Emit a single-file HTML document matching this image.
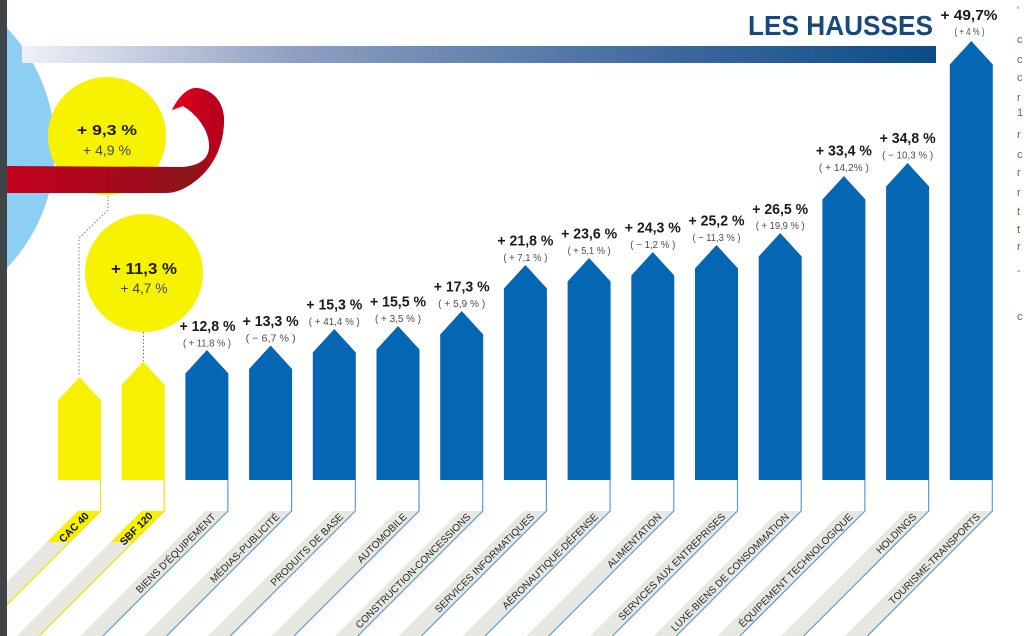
<!DOCTYPE html>
<html>
<head>
<meta charset="utf-8">
<style>
html,body{margin:0;padding:0;background:#fff;}
svg{display:block;}
text{font-family:"Liberation Sans",sans-serif;}
.b{font-weight:bold;fill:#1a1a1a;font-size:14.5px;text-anchor:middle;}
.s{fill:#4d4d4d;font-size:10px;text-anchor:middle;}
.lb{fill:#262626;font-size:10px;text-anchor:end;}
.lk{fill:#111;font-size:10.5px;font-weight:bold;text-anchor:end;}
.band{fill:#e9e7e2;}
.ln{fill:none;stroke:#5b9bd5;stroke-width:1.2;}
.lny{fill:none;stroke:#efe300;stroke-width:1.2;}
.bar{fill:#0567b3;}
.ybar{fill:#f7f000;}
.rc{fill:#8a5a2e;font-size:11px;}
</style>
</head>
<body>
<svg width="1024" height="636" viewBox="0 0 1024 636" xmlns="http://www.w3.org/2000/svg">
<defs>
<linearGradient id="tg" x1="0" y1="0" x2="1" y2="0">
<stop offset="0" stop-color="#f0f1f7"/>
<stop offset="0.3" stop-color="#8e9fc1"/>
<stop offset="0.7" stop-color="#3e6a9f"/>
<stop offset="1" stop-color="#0c4c86"/>
</linearGradient>
<linearGradient id="rg" x1="0" y1="0" x2="1" y2="0">
<stop offset="0" stop-color="#c4001f"/>
<stop offset="0.6" stop-color="#a00a1c"/>
<stop offset="0.85" stop-color="#8c1519"/>
<stop offset="1" stop-color="#c8001e"/>
</linearGradient>
<linearGradient id="lg" x1="0" y1="0" x2="1" y2="0">
<stop offset="0" stop-color="#e4001d"/>
<stop offset="1" stop-color="#b0001c"/>
</linearGradient>
</defs>

<circle cx="-119" cy="148" r="174" fill="#8dcff2"/>

<rect x="22" y="46" width="914" height="17" fill="url(#tg)"/>
<text x="748" y="35" font-size="27.5" font-weight="bold" fill="#17497d" textLength="185" lengthAdjust="spacingAndGlyphs">LES HAUSSES</text>

<circle cx="107" cy="136" r="59" fill="#f7f200"/>
<circle cx="144" cy="273" r="59" fill="#f7f200"/>

<path d="M7,166 L182,167 C198,166 208,160 209,148 C210,132 198,115 183,106 L172,110 C178,98 186,89 195,88 C210,88 224,100 224,120 C224,150 210,172 190,185 C182,190 175,193 165,193 L7,193 Z" fill="url(#rg)"/>
<path d="M183,106 L172,110 C178,98 186,89 195,88 C210,88 224,100 224,120 C224,135 220,145 214,155 C212,135 200,116 183,106 Z" fill="url(#lg)"/>

<text x="107" y="135" font-size="15" font-weight="bold" fill="#1a1a1a" text-anchor="middle" textLength="60" lengthAdjust="spacingAndGlyphs">+ 9,3 %</text>
<text x="107" y="155" font-size="13.5" fill="#444" text-anchor="middle" textLength="48" lengthAdjust="spacingAndGlyphs">+ 4,9 %</text>
<text x="144" y="274" font-size="16" font-weight="bold" fill="#1a1a1a" text-anchor="middle" textLength="66" lengthAdjust="spacingAndGlyphs">+ 11,3 %</text>
<text x="144" y="293" font-size="13.5" fill="#444" text-anchor="middle" textLength="47" lengthAdjust="spacingAndGlyphs">+ 4,7 %</text>

<polyline points="108,196 108,210 79,238 79,376" fill="none" stroke="#777" stroke-width="1" stroke-dasharray="1.5,2"/>
<line x1="143.5" y1="332" x2="143.5" y2="361" stroke="#777" stroke-width="1" stroke-dasharray="1.5,2"/>

<g transform="translate(101,0)"><polygon class="band" points="-23,511 0,511 -125,636 -148,636"/><polygon fill="#f7f000" points="-23,511 0,511 -31,542 -54,542"/><polyline class="lny" points="-0.5,480 -0.5,511 -125.5,636"/><g transform="translate(0,511) rotate(-45)"><text class="lk" x="-12" y="-4">CAC 40</text></g></g>
<g transform="translate(164.7,0)"><polygon class="band" points="-23,511 0,511 -125,636 -148,636"/><polygon fill="#f7f000" points="-23,511 0,511 -31,542 -54,542"/><polyline class="lny" points="-0.5,480 -0.5,511 -125.5,636"/><g transform="translate(0,511) rotate(-45)"><text class="lk" x="-12" y="-4">SBF 120</text></g></g>
<g transform="translate(228.4,0)"><polygon class="band" points="-23,511 0,511 -125,636 -148,636"/><polyline class="ln" points="-0.5,480 -0.5,511 -125.5,636"/><g transform="translate(0,511) rotate(-45)"><text class="lb" x="-13" y="-4">BIENS D'ÉQUIPEMENT</text></g></g>
<g transform="translate(292.1,0)"><polygon class="band" points="-23,511 0,511 -125,636 -148,636"/><polyline class="ln" points="-0.5,480 -0.5,511 -125.5,636"/><g transform="translate(0,511) rotate(-45)"><text class="lb" x="-13" y="-4">MÉDIAS-PUBLICITÉ</text></g></g>
<g transform="translate(355.8,0)"><polygon class="band" points="-23,511 0,511 -125,636 -148,636"/><polyline class="ln" points="-0.5,480 -0.5,511 -125.5,636"/><g transform="translate(0,511) rotate(-45)"><text class="lb" x="-13" y="-4">PRODUITS DE BASE</text></g></g>
<g transform="translate(419.5,0)"><polygon class="band" points="-23,511 0,511 -125,636 -148,636"/><polyline class="ln" points="-0.5,480 -0.5,511 -125.5,636"/><g transform="translate(0,511) rotate(-45)"><text class="lb" x="-13" y="-4">AUTOMOBILE</text></g></g>
<g transform="translate(483.2,0)"><polygon class="band" points="-23,511 0,511 -125,636 -148,636"/><polyline class="ln" points="-0.5,480 -0.5,511 -125.5,636"/><g transform="translate(0,511) rotate(-45)"><text class="lb" x="-13" y="-4">CONSTRUCTION-CONCESSIONS</text></g></g>
<g transform="translate(546.9,0)"><polygon class="band" points="-23,511 0,511 -125,636 -148,636"/><polyline class="ln" points="-0.5,480 -0.5,511 -125.5,636"/><g transform="translate(0,511) rotate(-45)"><text class="lb" x="-13" y="-4">SERVICES INFORMATIQUES</text></g></g>
<g transform="translate(610.6,0)"><polygon class="band" points="-23,511 0,511 -125,636 -148,636"/><polyline class="ln" points="-0.5,480 -0.5,511 -125.5,636"/><g transform="translate(0,511) rotate(-45)"><text class="lb" x="-13" y="-4">AÉRONAUTIQUE-DÉFENSE</text></g></g>
<g transform="translate(674.3,0)"><polygon class="band" points="-23,511 0,511 -125,636 -148,636"/><polyline class="ln" points="-0.5,480 -0.5,511 -125.5,636"/><g transform="translate(0,511) rotate(-45)"><text class="lb" x="-13" y="-4">ALIMENTATION</text></g></g>
<g transform="translate(738,0)"><polygon class="band" points="-23,511 0,511 -125,636 -148,636"/><polyline class="ln" points="-0.5,480 -0.5,511 -125.5,636"/><g transform="translate(0,511) rotate(-45)"><text class="lb" x="-13" y="-4">SERVICES AUX ENTREPRISES</text></g></g>
<g transform="translate(801.7,0)"><polygon class="band" points="-23,511 0,511 -125,636 -148,636"/><polyline class="ln" points="-0.5,480 -0.5,511 -125.5,636"/><g transform="translate(0,511) rotate(-45)"><text class="lb" x="-13" y="-4">LUXE-BIENS DE CONSOMMATION</text></g></g>
<g transform="translate(865.4,0)"><polygon class="band" points="-23,511 0,511 -125,636 -148,636"/><polyline class="ln" points="-0.5,480 -0.5,511 -125.5,636"/><g transform="translate(0,511) rotate(-45)"><text class="lb" x="-13" y="-4">ÉQUIPEMENT TECHNOLOGIQUE</text></g></g>
<g transform="translate(929.1,0)"><polygon class="band" points="-23,511 0,511 -125,636 -148,636"/><polyline class="ln" points="-0.5,480 -0.5,511 -125.5,636"/><g transform="translate(0,511) rotate(-45)"><text class="lb" x="-13" y="-4">HOLDINGS</text></g></g>
<g transform="translate(992.8,0)"><polygon class="band" points="-23,511 0,511 -125,636 -148,636"/><polyline class="ln" points="-0.5,480 -0.5,511 -125.5,636"/><g transform="translate(0,511) rotate(-45)"><text class="lb" x="-13" y="-4">TOURISME-TRANSPORTS</text></g></g>

<polygon class="ybar" points="58,480 58,400.5 79.5,377 101,400.5 101,480"/>
<polygon class="ybar" points="121.7,480 121.7,385 143.2,361.5 164.7,385 164.7,480"/>
<polygon class="bar" points="185.4,480 185.4,373.5 206.9,350 228.4,373.5 228.4,480"/>
<polygon class="bar" points="249.1,480 249.1,369 270.6,345.5 292.1,369 292.1,480"/>
<polygon class="bar" points="312.8,480 312.8,352.5 334.3,329 355.8,352.5 355.8,480"/>
<polygon class="bar" points="376.5,480 376.5,349.5 398,326 419.5,349.5 419.5,480"/>
<polygon class="bar" points="440.2,480 440.2,334.5 461.7,311 483.2,334.5 483.2,480"/>
<polygon class="bar" points="503.9,480 503.9,288.5 525.4,265 546.9,288.5 546.9,480"/>
<polygon class="bar" points="567.6,480 567.6,281.5 589.1,258 610.6,281.5 610.6,480"/>
<polygon class="bar" points="631.3,480 631.3,275.5 652.8,252 674.3,275.5 674.3,480"/>
<polygon class="bar" points="695,480 695,268.5 716.5,245 738,268.5 738,480"/>
<polygon class="bar" points="758.7,480 758.7,256.5 780.2,233 801.7,256.5 801.7,480"/>
<polygon class="bar" points="822.4,480 822.4,199.5 843.9,176 865.4,199.5 865.4,480"/>
<polygon class="bar" points="886.1,480 886.1,186.5 907.6,163 929.1,186.5 929.1,480"/>
<polygon class="bar" points="949.8,480 949.8,64.5 971.3,41 992.8,64.5 992.8,480"/>

<text class="b" x="207.5" y="331" textLength="56" lengthAdjust="spacingAndGlyphs">+ 12,8 %</text>
<text class="s" x="207" y="346.5" textLength="48" lengthAdjust="spacingAndGlyphs">( + 11,8 % )</text>
<text class="b" x="270.6" y="326" textLength="56" lengthAdjust="spacingAndGlyphs">+ 13,3 %</text>
<text class="s" x="270.6" y="341.5" textLength="50" lengthAdjust="spacingAndGlyphs">( − 6,7 % )</text>
<text class="b" x="334.3" y="309.5" textLength="56" lengthAdjust="spacingAndGlyphs">+ 15,3 %</text>
<text class="s" x="334.3" y="325" textLength="51" lengthAdjust="spacingAndGlyphs">( + 41,4 % )</text>
<text class="b" x="398" y="306.5" textLength="56" lengthAdjust="spacingAndGlyphs">+ 15,5 %</text>
<text class="s" x="398" y="322" textLength="46" lengthAdjust="spacingAndGlyphs">( + 3,5 % )</text>
<text class="b" x="461.7" y="291.5" textLength="56" lengthAdjust="spacingAndGlyphs">+ 17,3 %</text>
<text class="s" x="461.7" y="307" textLength="47" lengthAdjust="spacingAndGlyphs">( + 5,9 % )</text>
<text class="b" x="525.4" y="245.5" textLength="56" lengthAdjust="spacingAndGlyphs">+ 21,8 %</text>
<text class="s" x="525.4" y="261" textLength="44" lengthAdjust="spacingAndGlyphs">( + 7,1 % )</text>
<text class="b" x="589.1" y="238.5" textLength="56" lengthAdjust="spacingAndGlyphs">+ 23,6 %</text>
<text class="s" x="589.1" y="254" textLength="43" lengthAdjust="spacingAndGlyphs">( + 5,1 % )</text>
<text class="b" x="652.8" y="232.5" textLength="56" lengthAdjust="spacingAndGlyphs">+ 24,3 %</text>
<text class="s" x="652.8" y="248" textLength="45" lengthAdjust="spacingAndGlyphs">( − 1,2 % )</text>
<text class="b" x="716.5" y="225.5" textLength="56" lengthAdjust="spacingAndGlyphs">+ 25,2 %</text>
<text class="s" x="716.5" y="241" textLength="48" lengthAdjust="spacingAndGlyphs">( − 11,3 % )</text>
<text class="b" x="780.2" y="214" textLength="56" lengthAdjust="spacingAndGlyphs">+ 26,5 %</text>
<text class="s" x="780.2" y="229" textLength="49" lengthAdjust="spacingAndGlyphs">( + 19,9 % )</text>
<text class="b" x="843.9" y="155.5" textLength="56" lengthAdjust="spacingAndGlyphs">+ 33,4 %</text>
<text class="s" x="843.9" y="171" textLength="50" lengthAdjust="spacingAndGlyphs">( + 14,2% )</text>
<text class="b" x="907.6" y="143" textLength="56" lengthAdjust="spacingAndGlyphs">+ 34,8 %</text>
<text class="s" x="907.6" y="158.5" textLength="51" lengthAdjust="spacingAndGlyphs">( − 10,3 % )</text>
<text class="b" x="969" y="20" textLength="57" lengthAdjust="spacingAndGlyphs">+ 49,7%</text>
<text class="s" x="969.5" y="35" textLength="30" lengthAdjust="spacingAndGlyphs">( + 4 % )</text>

<text class="rc" x="1017" y="14">'</text>
<text class="rc" x="1017" y="43">c</text>
<text class="rc" x="1017" y="63">c</text>
<text class="rc" x="1017" y="81">c</text>
<text class="rc" x="1017" y="101">r</text>
<text class="rc" x="1017" y="116">1</text>
<text class="rc" x="1017" y="138">r</text>
<text class="rc" x="1017" y="158">c</text>
<text class="rc" x="1017" y="176">r</text>
<text class="rc" x="1017" y="196">r</text>
<text class="rc" x="1017" y="215">t</text>
<text class="rc" x="1017" y="233">t</text>
<text class="rc" x="1017" y="250">r</text>
<text class="rc" x="1017" y="274">-</text>
<text class="rc" x="1017" y="320">c</text>

<rect x="0" y="0" width="7" height="636" fill="#3f4447"/>
</svg>
</body>
</html>
